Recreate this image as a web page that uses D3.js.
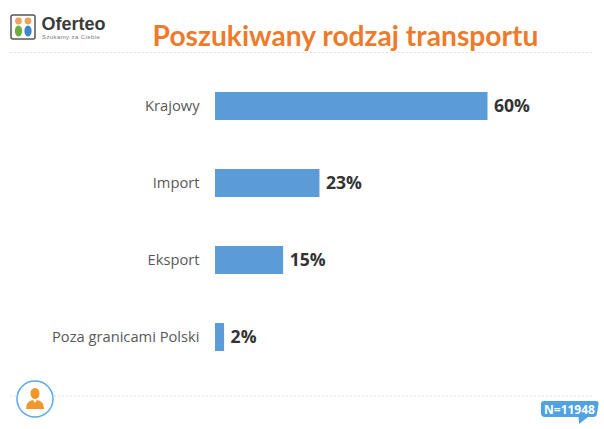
<!DOCTYPE html>
<html>
<head>
<meta charset="utf-8">
<script src="https://cdn.jsdelivr.net/npm/d3@7"></script>
<style>
  html, body { margin: 0; padding: 0; background: #fff; }
  svg { display: block; font-family: "Open Sans", "Noto Sans", sans-serif; }
</style>
</head>
<body>
<div id="chart"></div>
<script>
const categories = ["Krajowy", "Import", "Eksport", "Poza granicami Polski"];
const values = [60, 23, 15, 2];
const titleText = "Poszukiwany rodzaj transportu";
const sampleText = "N=11948";

const width = 604, height = 429;
const svg = d3.select("#chart").append("svg")
  .attr("width", width)
  .attr("height", height);

// band scale so that the four rows land on the same centres as the picture
const y = d3.scaleBand().domain(categories).range([43, 400]).padding(0.636);
const x = d3.scaleLinear().domain([0, 60]).range([215, 487.5]);

// dotted separators
svg.append("line").attr("x1", 10).attr("x2", 592).attr("y1", 52.5).attr("y2", 52.5)
  .attr("stroke", "#d9d9d9").attr("stroke-dasharray", "1.5 2.5");
svg.append("line").attr("x1", 10).attr("x2", 592).attr("y1", 396).attr("y2", 396)
  .attr("stroke", "#dcdcdc").attr("stroke-dasharray", "2 2");

// logo
const logo = svg.append("g");
logo.append("rect").attr("x", 11).attr("y", 15).attr("width", 24).attr("height", 24).attr("rx", 2)
  .attr("fill", "#fff").attr("stroke", "#555").attr("stroke-width", 1.5);
logo.append("circle").attr("cx", 18.5).attr("cy", 21).attr("r", 3.4).attr("fill", "#eda35c");
logo.append("circle").attr("cx", 28).attr("cy", 21).attr("r", 3.4).attr("fill", "#eda35c");
logo.append("ellipse").attr("cx", 18.5).attr("cy", 31).attr("rx", 3.6).attr("ry", 5.6).attr("fill", "#6cae3e");
logo.append("ellipse").attr("cx", 28).attr("cy", 31).attr("rx", 3.6).attr("ry", 5.6).attr("fill", "#3f86c9");
logo.append("text").attr("x", 41.5).attr("y", 30).attr("font-size", 18).attr("font-weight", 700)
  .style("font-family", "Liberation Sans").attr("fill", "#3a3a3a").text("Oferteo");
logo.append("text").attr("x", 42).attr("y", 39).attr("font-size", 6).attr("letter-spacing", 0.4)
  .style("font-family", "Liberation Sans").attr("fill", "#777").text("Szukamy za Ciebie");

// title
svg.append("text").attr("x", 345.5).attr("y", 46).attr("text-anchor", "middle")
  .attr("font-size", 28.2).attr("font-weight", 700).attr("fill", "#ee7b2c")
  .style("font-family", "Lato")
  .text(titleText);

// bars
svg.selectAll("rect.bar").data(values).enter().append("rect")
  .attr("class", "bar")
  .attr("x", x(0))
  .attr("y", (d, i) => y(categories[i]))
  .attr("width", d => x(d) - x(0))
  .attr("height", y.bandwidth())
  .attr("fill", "#5b9bd8");

// category labels
svg.selectAll("text.cat").data(categories).enter().append("text")
  .attr("class", "cat")
  .attr("x", 199.5)
  .attr("y", d => y(d) + y.bandwidth() / 2)
  .attr("dy", "0.36em")
  .attr("text-anchor", "end")
  .attr("font-size", 14.7)
  .attr("fill", "#595959")
  .text(d => d);

// value labels
svg.selectAll("text.val").data(values).enter().append("text")
  .attr("class", "val")
  .attr("x", d => x(d) + 6.5)
  .attr("y", (d, i) => y(categories[i]) + y.bandwidth() / 2)
  .attr("dy", "0.36em")
  .attr("font-size", 17.6)
  .attr("font-weight", 700)
  .attr("fill", "#333")
  .text(d => d + "%");

// person badge
const badge = svg.append("g");
badge.append("circle").attr("cx", 35).attr("cy", 399).attr("r", 18)
  .attr("fill", "#fff").attr("stroke", "#5aa9e6").attr("stroke-width", 1.5);
badge.append("ellipse").attr("cx", 35).attr("cy", 393.5).attr("rx", 4.5).attr("ry", 5.5).attr("fill", "#f0962a");
badge.append("path").attr("d", "M26,409 Q26,401 33,400 L35,403 L37,400 Q44,401 44,409 Z").attr("fill", "#f0962a");

// sample size bubble
const bubble = svg.append("g");
bubble.append("path")
  .attr("d", "M544,401 H596 Q599,401 598.5,404 L597,414 Q596.5,417 593,417 H588 L579,424 L578.5,417 H545 Q541,417 541,413 V404 Q541,401 544,401 Z")
  .attr("fill", "#4fa3e3");
bubble.append("text").attr("x", 569.5).attr("y", 413.5).attr("text-anchor", "middle")
  .attr("font-size", 12).attr("font-weight", 700).attr("fill", "#fff").text(sampleText);
</script>
</body>
</html>
